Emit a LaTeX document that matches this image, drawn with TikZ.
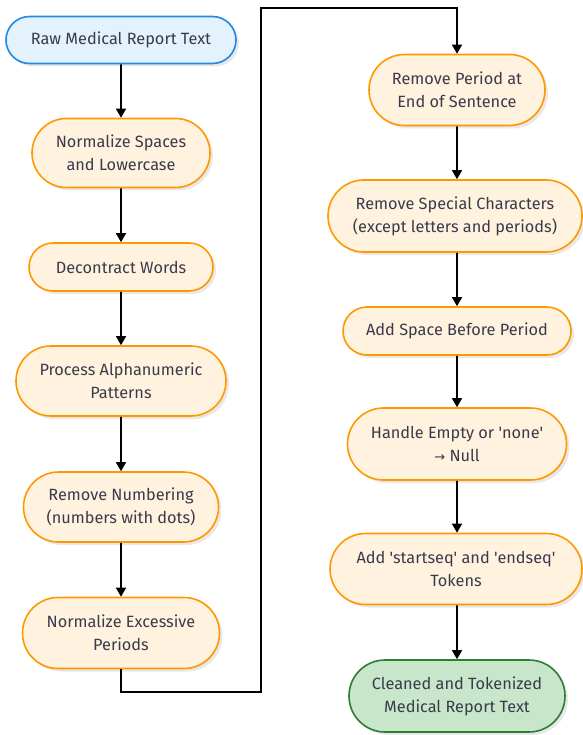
\documentclass[tikz,border=0pt]{standalone}
\usepackage{fontspec}
\setmainfont{Fira Sans}[Ligatures=TeXOff]
\usetikzlibrary{shapes.misc,shadows,arrows.meta}
\definecolor{txt}{HTML}{3A3A4A}
\definecolor{bluefill}{HTML}{E3F2FD}
\definecolor{blueline}{HTML}{1E88E5}
\definecolor{orfill}{HTML}{FFF3E0}
\definecolor{orline}{HTML}{FF9800}
\definecolor{grfill}{HTML}{C8E6C9}
\definecolor{grline}{HTML}{2E7D32}
\tikzset{
  box/.style={rounded rectangle, draw, line width=1.6pt, text=txt, align=center,
    font=\fontsize{16.3}{23}\selectfont, inner sep=0pt,
    drop shadow={shadow xshift=3pt, shadow yshift=-3pt, fill=black!9, opacity=1}},
  startbox/.style={box, fill=bluefill, draw=blueline},
  procbox/.style={box, fill=orfill, draw=orline},
  endbox/.style={box, fill=grfill, draw=grline},
  flow/.style={line width=1.6pt, -{Triangle[width=10pt,length=9pt]}}
}
\begin{document}
\begin{tikzpicture}[x=1pt,y=-1pt]
\useasboundingbox (0,0) rectangle (582,735);
\node[startbox, minimum width=230pt, minimum height=47pt] (n1) at (121,40) {Raw Medical Report Text};
\node[procbox, minimum width=178pt, minimum height=69pt] (n2) at (121,153) {Normalize Spaces\\and Lowercase};
\node[procbox, minimum width=184pt, minimum height=48pt] (n3) at (121,267) {Decontract Words};
\node[procbox, minimum width=210pt, minimum height=70pt] (n4) at (121,381) {Process Alphanumeric\\Patterns};
\node[procbox, minimum width=195pt, minimum height=70pt] (n5) at (121,507) {Remove Numbering\\(numbers with dots)};
\node[procbox, minimum width=197pt, minimum height=71pt] (n6) at (121,633) {Normalize Excessive\\Periods};
\node[procbox, minimum width=176pt, minimum height=71pt] (n7) at (457,90) {Remove Period at\\End of Sentence};
\node[procbox, minimum width=254pt, minimum height=72pt] (n8) at (455,216) {Remove Special Characters\\(except letters and periods)};
\node[procbox, minimum width=228pt, minimum height=48pt] (n9) at (457,331) {Add Space Before Period};
\node[procbox, minimum width=219pt, minimum height=72pt] (n10) at (457,444) {Handle Empty or 'none'\\{\fontspec{DejaVu Sans}\fontsize{13}{23}\selectfont →} Null};
\node[procbox, minimum width=252pt, minimum height=71pt] (n11) at (456,569) {Add 'startseq' and 'endseq'\\Tokens};
\node[endbox, minimum width=216pt, minimum height=72pt] (n12) at (457,696) {Cleaned and Tokenized\\Medical Report Text};
\coordinate (c1) at (121,692);
\coordinate (c2) at (261,692);
\coordinate (c3) at (261,8);
\coordinate (c4) at (457,8);
\draw[flow] (n1) -- (n2);
\draw[flow] (n2) -- (n3);
\draw[flow] (n3) -- (n4);
\draw[flow] (n4) -- (n5);
\draw[flow] (n5) -- (n6);
\draw[flow] (n6.south) -- (c1) -- (c2) -- (c3) -- (c4) -- (n7.north);
\draw[flow] (n7) -- (n8.north -| n7.south);
\draw[flow] (n8.south -| n7.south) -- (n9);
\draw[flow] (n9) -- (n10);
\draw[flow] (n10) -- (n11.north -| n10.south);
\draw[flow] (n11.south -| n10.south) -- (n12);
\end{tikzpicture}
\end{document}
